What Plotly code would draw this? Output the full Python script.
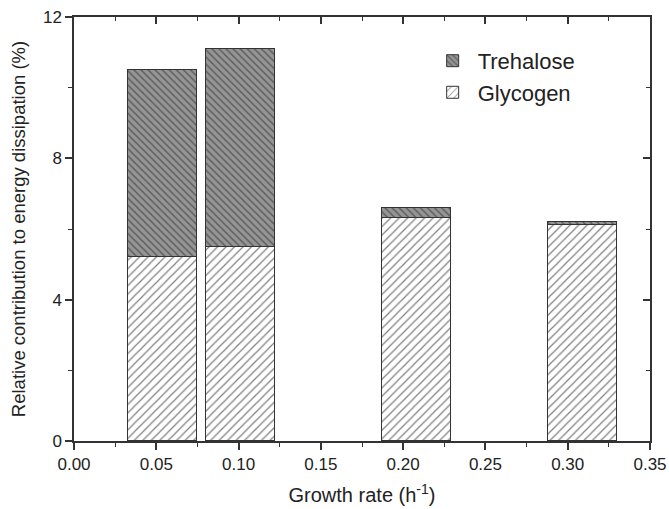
import plotly.graph_objects as go

growth_rate = [0.054, 0.101, 0.208, 0.309]
glycogen = [5.2, 5.5, 6.3, 6.1]
trehalose = [5.3, 5.6, 0.3, 0.1]
bar_width = 0.042

FONT = "Liberation Sans, Arial, sans-serif"
AX = "#333333"

fig = go.Figure()
fig.add_trace(go.Bar(
    x=growth_rate, y=glycogen, width=bar_width, name="Glycogen",
    marker=dict(color="white", line=dict(color=AX, width=1),
                pattern=dict(shape="/", fgcolor="#000000", bgcolor="white", size=6, solidity=0.2)),
))
fig.add_trace(go.Bar(
    x=growth_rate, y=trehalose, width=bar_width, name="Trehalose",
    marker=dict(color="#8f8f8f", line=dict(color=AX, width=1),
                pattern=dict(shape="\\", fgcolor="#2a2a2a", bgcolor="#959595", size=5, solidity=0.3)),
))
# invisible trace to carry the mirrored top/right axes
fig.add_trace(go.Scatter(x=[growth_rate[0]], y=[glycogen[0]], xaxis="x2", yaxis="y2",
                         mode="markers", marker=dict(opacity=0), showlegend=False, hoverinfo="skip"))

fig.update_layout(
    width=669, height=509,
    margin=dict(l=74, r=19, t=17, b=68, autoexpand=False),
    paper_bgcolor="white", plot_bgcolor="white",
    barmode="stack", bargap=0,
    font=dict(family=FONT, color="#222222"),
    showlegend=True,
    legend=dict(x=0.614, y=0.946, xanchor="left", yanchor="top",
                traceorder="reversed", font=dict(size=22, family=FONT),
                bgcolor="rgba(0,0,0,0)", itemwidth=40, tracegroupgap=0),
    xaxis=dict(range=[0, 0.35], dtick=0.05, tickformat=".2f", automargin=False,
               showline=True, linecolor=AX, linewidth=1.5, mirror=False,
               ticks="outside", ticklen=7, tickwidth=1.5, tickcolor=AX,
               minor=dict(ticks="outside", dtick=0.025, ticklen=4, tickwidth=1.2, tickcolor=AX),
               showgrid=False, zeroline=False,
               tickfont=dict(size=17, family=FONT),
               title=dict(text="Growth rate (h<sup>-1</sup>)", font=dict(size=20, family=FONT), standoff=15)),
    yaxis=dict(range=[0, 12], dtick=4, automargin=False,
               showline=True, linecolor=AX, linewidth=1.5, mirror=False,
               ticks="outside", ticklen=7, tickwidth=1.5, tickcolor=AX,
               minor=dict(ticks="outside", dtick=2, ticklen=4, tickwidth=1.2, tickcolor=AX),
               showgrid=False, zeroline=False,
               tickfont=dict(size=17, family=FONT),
               title=dict(text="Relative contribution to energy dissipation (%)", font=dict(size=18.5, family=FONT), standoff=12)),
    xaxis2=dict(range=[0, 0.35], dtick=0.05, overlaying="x", side="top", anchor="y2", automargin=False,
                showline=True, linecolor=AX, linewidth=1.5,
                ticks="inside", ticklen=7, tickwidth=1.5, tickcolor=AX,
                minor=dict(ticks="inside", dtick=0.025, ticklen=4, tickwidth=1.2, tickcolor=AX),
                showticklabels=False, showgrid=False, zeroline=False),
    yaxis2=dict(range=[0, 12], dtick=4, overlaying="y", side="right", anchor="x2", automargin=False,
                showline=True, linecolor=AX, linewidth=1.5,
                ticks="inside", ticklen=7, tickwidth=1.5, tickcolor=AX,
                minor=dict(ticks="inside", dtick=2, ticklen=4, tickwidth=1.2, tickcolor=AX),
                showticklabels=False, showgrid=False, zeroline=False),
)

fig.write_html("out.html")
